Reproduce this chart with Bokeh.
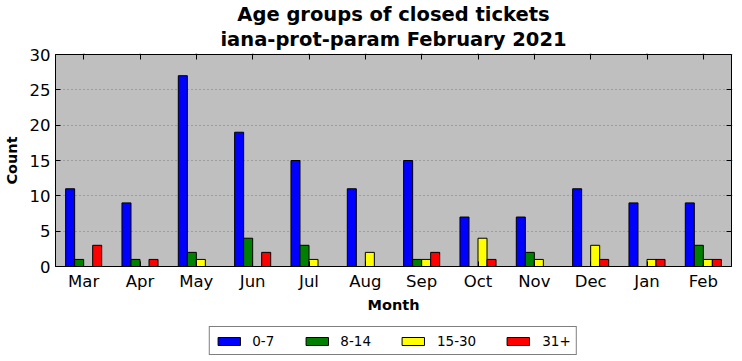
from bokeh.plotting import figure
from bokeh.layouts import column
from bokeh.models import (ColumnDataSource, Legend, LegendItem, Title, LinearAxis,
                          CategoricalAxis, FactorRange, Range1d)
from bokeh.transform import dodge
from bokeh.embed import file_html
from bokeh.resources import INLINE

months = ["Mar", "Apr", "May", "Jun", "Jul", "Aug", "Sep", "Oct", "Nov", "Dec", "Jan", "Feb"]
age_0_7 = [11, 9, 27, 19, 15, 11, 15, 7, 7, 11, 9, 9]
age_8_14 = [1, 1, 2, 4, 3, 0, 1, 0, 2, 0, 0, 3]
age_15_30 = [0, 0, 1, 0, 1, 2, 1, 4, 1, 3, 1, 1]
age_31p = [3, 1, 0, 2, 0, 0, 2, 1, 0, 1, 1, 1]
series_names = ["0-7", "8-14", "15-30", "31+"]
series_colors = ["#0000ff", "#008000", "#ffff00", "#ff0000"]
y_ticks = [0, 5, 10, 15, 20, 25, 30]

FONT = "DejaVu Sans"

source = ColumnDataSource(dict(month=months, a=age_0_7, b=age_8_14, c=age_15_30, d=age_31p))
offsets = [-0.24, -0.08, 0.08, 0.24]
cols = ["a", "b", "c", "d"]

p = figure(x_range=FactorRange(*months), y_range=Range1d(0, 30),
           frame_width=676, frame_height=212, output_backend="svg", toolbar_location=None,
           min_border_left=0, min_border_right=0, min_border_top=0, min_border_bottom=0,
           title=None)

p.background_fill_color = "#bfbfbf"
p.border_fill_color = "white"
p.outline_line_color = "black"
p.outline_line_width = 1

for col, off, color in zip(cols, offsets, series_colors):
    p.vbar(x=dodge("month", off, range=p.x_range), top=col, width=0.16, source=source,
           fill_color=color, line_color="black", line_width=1)

# axes
p.xaxis.axis_label = "Month"
p.yaxis.axis_label = "Count"
for ax in (p.xaxis, p.yaxis):
    ax.axis_label_text_font = FONT
    ax.axis_label_text_font_style = "bold"
    ax.axis_label_text_font_size = "14.5px"
    ax.axis_label_text_color = "black"
    ax.major_label_text_font = FONT
    ax.major_label_text_font_size = "16.5px"
    ax.major_label_text_color = "black"
    ax.major_tick_in = 5
    ax.major_tick_out = 0
    ax.minor_tick_in = 0
    ax.minor_tick_out = 0
    ax.axis_line_color = "black"
p.yaxis.ticker = y_ticks
p.yaxis.major_label_standoff = 5
p.xaxis.major_label_standoff = 5
p.yaxis.axis_label_standoff = 7
p.xaxis.axis_label_standoff = 3

top_axis = CategoricalAxis(major_label_text_font_size="1px", axis_line_color=None,
                           major_tick_in=5, major_tick_out=0, major_label_standoff=0)
p.add_layout(top_axis, "above")
right_axis = LinearAxis(major_label_text_font_size="1px", axis_line_color=None,
                        major_tick_in=5, major_tick_out=0, minor_tick_in=0, minor_tick_out=0,
                        major_label_standoff=0)
right_axis.ticker = y_ticks
p.add_layout(right_axis, "right")

p.xgrid.grid_line_color = None
p.ygrid.ticker = y_ticks
p.ygrid.grid_line_color = "#7a7a7a"
p.ygrid.grid_line_dash = "1 3"
p.ygrid.grid_line_width = 1

# two title lines (second added first: it sits next to the plot)
t2 = Title(text="iana-prot-param February 2021", align="center", text_font=FONT,
           text_font_size="19.5px", text_font_style="bold", text_color="black",
           standoff=0, text_line_height=0.8)
t1 = Title(text="Age groups of closed tickets", align="center", text_font=FONT,
           text_font_size="19.5px", text_font_style="bold", text_color="black",
           standoff=0, text_line_height=0.8)
p.add_layout(t2, "above")
p.add_layout(t1, "above")

# legend strip below the chart; hidden proxy bars of the same data supply the swatches
p2 = figure(width=734, height=41, output_backend="svg", toolbar_location=None, title=None,
            x_range=FactorRange(*months), y_range=Range1d(0, 30),
            x_axis_location=None, y_axis_location=None,
            min_border_left=52, min_border_right=0, min_border_top=0, min_border_bottom=0)
p2.outline_line_color = None
p2.grid.grid_line_color = None
p2.background_fill_color = "white"
proxies = []
for col, off, color in zip(cols, offsets, series_colors):
    proxies.append(p2.vbar(x=dodge("month", off, range=p2.x_range), top=col, width=0.16,
                           source=source, fill_color=color, line_color="black",
                           line_width=1, visible=False))

legend = Legend(items=[LegendItem(label=n, renderers=[r]) for n, r in zip(series_names, proxies)],
                orientation="horizontal", location="bottom")
legend.label_text_font = FONT
legend.label_text_font_size = "13.5px"
legend.label_text_color = "black"
legend.label_height = 17
legend.glyph_width = 28
legend.glyph_height = 10
legend.label_standoff = 10
legend.spacing = 28
legend.padding = 5
legend.margin = 1
legend.inactive_fill_alpha = 0
legend.border_line_color = "black"
legend.border_line_width = 1
legend.background_fill_color = "white"
p2.add_layout(legend, "center")

layout = column(p, p2, spacing=0)
open("out.html", "w").write(file_html(layout, INLINE))
